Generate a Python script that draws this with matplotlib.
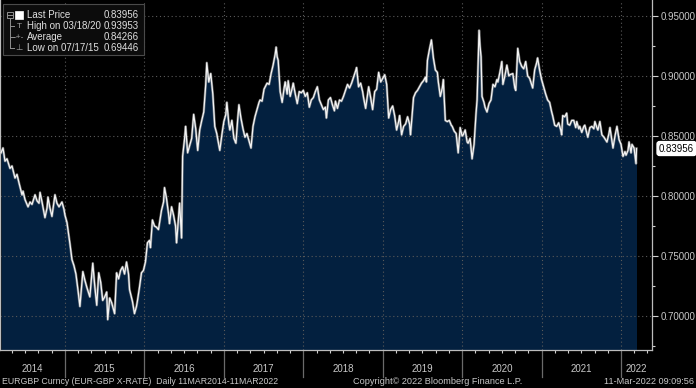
"""EURGBP daily price chart, Bloomberg terminal style."""

import matplotlib
matplotlib.use("Agg")
import matplotlib.pyplot as plt
import matplotlib.transforms as mtransforms
from matplotlib.patches import Rectangle
from matplotlib.lines import Line2D
from matplotlib.ticker import FixedLocator, FormatStrFormatter

plt.rcParams["font.family"] = ["Liberation Sans", "DejaVu Sans"]

# Price series (decimal year, EURGBP)
years = [
    2014.195, 2014.220, 2014.245, 2014.270, 2014.308, 2014.333, 2014.371, 2014.396, 2014.421, 2014.459,
    2014.472, 2014.497, 2014.535, 2014.560, 2014.585, 2014.623, 2014.648, 2014.673, 2014.686, 2014.711,
    2014.748, 2014.774, 2014.786, 2014.811, 2014.836, 2014.874, 2014.899, 2014.925, 2014.962, 2014.987,
    2015.000, 2015.025, 2015.038, 2015.063, 2015.088, 2015.113, 2015.138, 2015.163, 2015.188, 2015.213,
    2015.225, 2015.250, 2015.275, 2015.313, 2015.338, 2015.350, 2015.375, 2015.400, 2015.425, 2015.450,
    2015.475, 2015.500, 2015.525, 2015.538, 2015.563, 2015.588, 2015.625, 2015.650, 2015.675, 2015.700,
    2015.725, 2015.750, 2015.775, 2015.800, 2015.813, 2015.850, 2015.875, 2015.900, 2015.913, 2015.938,
    2015.963, 2015.988, 2016.013, 2016.025, 2016.038, 2016.063, 2016.076, 2016.101, 2016.127, 2016.152,
    2016.177, 2016.215, 2016.241, 2016.253, 2016.278, 2016.304, 2016.316, 2016.342, 2016.367, 2016.392,
    2016.405, 2016.430, 2016.443, 2016.468, 2016.481, 2016.506, 2016.519, 2016.544, 2016.570, 2016.595,
    2016.620, 2016.646, 2016.671, 2016.696, 2016.722, 2016.747, 2016.772, 2016.785, 2016.810, 2016.835,
    2016.861, 2016.886, 2016.911, 2016.924, 2016.949, 2016.975, 2017.000, 2017.025, 2017.038, 2017.063,
    2017.076, 2017.101, 2017.127, 2017.152, 2017.177, 2017.190, 2017.215, 2017.241, 2017.266, 2017.291,
    2017.316, 2017.342, 2017.367, 2017.392, 2017.418, 2017.443, 2017.456, 2017.481, 2017.506, 2017.544,
    2017.570, 2017.595, 2017.620, 2017.646, 2017.658, 2017.671, 2017.684, 2017.709, 2017.734, 2017.759,
    2017.772, 2017.797, 2017.810, 2017.835, 2017.861, 2017.873, 2017.899, 2017.924, 2017.949, 2017.975,
    2018.000, 2018.025, 2018.051, 2018.076, 2018.101, 2018.127, 2018.152, 2018.177, 2018.203, 2018.228,
    2018.253, 2018.278, 2018.291, 2018.316, 2018.342, 2018.367, 2018.392, 2018.405, 2018.430, 2018.456,
    2018.481, 2018.506, 2018.532, 2018.557, 2018.582, 2018.608, 2018.633, 2018.658, 2018.671, 2018.696,
    2018.722, 2018.747, 2018.759, 2018.785, 2018.810, 2018.823, 2018.848, 2018.873, 2018.899, 2018.924,
    2018.949, 2018.975, 2019.000, 2019.025, 2019.050, 2019.063, 2019.075, 2019.100, 2019.125, 2019.150,
    2019.175, 2019.200, 2019.213, 2019.238, 2019.263, 2019.288, 2019.313, 2019.338, 2019.350, 2019.375,
    2019.388, 2019.413, 2019.438, 2019.463, 2019.488, 2019.513, 2019.538, 2019.550, 2019.563, 2019.588,
    2019.613, 2019.638, 2019.663, 2019.688, 2019.700, 2019.725, 2019.750, 2019.763, 2019.788, 2019.813,
    2019.838, 2019.863, 2019.875, 2019.900, 2019.925, 2019.950, 2019.975, 2020.000, 2020.013, 2020.038,
    2020.063, 2020.075, 2020.100, 2020.125, 2020.150, 2020.175, 2020.188, 2020.213, 2020.225, 2020.238,
    2020.250, 2020.275, 2020.288, 2020.313, 2020.338, 2020.363, 2020.388, 2020.413, 2020.438, 2020.450,
    2020.475, 2020.500, 2020.513, 2020.538, 2020.563, 2020.588, 2020.600, 2020.638, 2020.663, 2020.675,
    2020.700, 2020.725, 2020.750, 2020.775, 2020.800, 2020.825, 2020.850, 2020.888, 2020.913, 2020.938,
    2020.950, 2020.975, 2021.000, 2021.025, 2021.051, 2021.076, 2021.101, 2021.127, 2021.139, 2021.165,
    2021.190, 2021.215, 2021.241, 2021.253, 2021.266, 2021.291, 2021.316, 2021.329, 2021.354, 2021.380,
    2021.405, 2021.430, 2021.443, 2021.468, 2021.481, 2021.506, 2021.532, 2021.544, 2021.570, 2021.582,
    2021.608, 2021.633, 2021.658, 2021.671, 2021.696, 2021.709, 2021.734, 2021.759, 2021.785, 2021.823,
    2021.848, 2021.861, 2021.886, 2021.899, 2021.924, 2021.949, 2021.975, 2022.000, 2022.025, 2022.050,
    2022.063, 2022.088, 2022.101, 2022.126, 2022.138, 2022.164, 2022.189, 2022.195,
]
prices = [
    0.836, 0.840, 0.829, 0.831, 0.823, 0.825, 0.815, 0.818, 0.811, 0.801,
    0.804, 0.797, 0.791, 0.795, 0.793, 0.801, 0.796, 0.794, 0.803, 0.795,
    0.782, 0.790, 0.799, 0.790, 0.783, 0.801, 0.794, 0.791, 0.795, 0.789,
    0.784, 0.778, 0.772, 0.760, 0.747, 0.742, 0.735, 0.722, 0.708, 0.728,
    0.737, 0.730, 0.724, 0.716, 0.735, 0.744, 0.725, 0.709, 0.736, 0.728,
    0.713, 0.716, 0.720, 0.697, 0.715, 0.711, 0.702, 0.736, 0.731, 0.738,
    0.741, 0.735, 0.745, 0.735, 0.722, 0.712, 0.702, 0.708, 0.713, 0.724,
    0.736, 0.738, 0.745, 0.753, 0.761, 0.763, 0.757, 0.780, 0.775, 0.774,
    0.772, 0.788, 0.795, 0.807, 0.798, 0.785, 0.777, 0.791, 0.784, 0.775,
    0.761, 0.783, 0.794, 0.765, 0.833, 0.848, 0.858, 0.836, 0.842, 0.848,
    0.868, 0.856, 0.838, 0.855, 0.863, 0.870, 0.893, 0.911, 0.895, 0.902,
    0.885, 0.858, 0.852, 0.847, 0.838, 0.851, 0.862, 0.868, 0.878, 0.860,
    0.855, 0.863, 0.848, 0.844, 0.866, 0.876, 0.865, 0.856, 0.849, 0.852,
    0.846, 0.840, 0.858, 0.866, 0.872, 0.878, 0.880, 0.879, 0.889, 0.894,
    0.893, 0.902, 0.909, 0.918, 0.924, 0.916, 0.913, 0.887, 0.878, 0.890,
    0.895, 0.885, 0.896, 0.883, 0.890, 0.894, 0.885, 0.877, 0.887, 0.886,
    0.888, 0.883, 0.886, 0.874, 0.880, 0.882, 0.887, 0.891, 0.880, 0.876,
    0.872, 0.874, 0.865, 0.880, 0.882, 0.876, 0.871, 0.879, 0.873, 0.880,
    0.879, 0.883, 0.888, 0.893, 0.890, 0.894, 0.899, 0.904, 0.907, 0.891,
    0.894, 0.887, 0.882, 0.873, 0.885, 0.891, 0.882, 0.872, 0.887, 0.889,
    0.903, 0.895, 0.898, 0.901, 0.893, 0.878, 0.865, 0.872, 0.875, 0.867,
    0.855, 0.862, 0.867, 0.851, 0.858, 0.860, 0.866, 0.860, 0.851, 0.872,
    0.882, 0.886, 0.888, 0.891, 0.894, 0.896, 0.899, 0.895, 0.913, 0.922,
    0.930, 0.915, 0.905, 0.903, 0.895, 0.883, 0.890, 0.897, 0.863, 0.862,
    0.863, 0.859, 0.858, 0.854, 0.852, 0.836, 0.857, 0.850, 0.851, 0.855,
    0.845, 0.844, 0.848, 0.831, 0.843, 0.869, 0.880, 0.938, 0.925, 0.916,
    0.883, 0.878, 0.874, 0.870, 0.877, 0.880, 0.893, 0.891, 0.897, 0.895,
    0.903, 0.912, 0.893, 0.900, 0.909, 0.900, 0.901, 0.902, 0.890, 0.888,
    0.923, 0.912, 0.908, 0.906, 0.912, 0.900, 0.898, 0.890, 0.905, 0.911,
    0.915, 0.905, 0.897, 0.891, 0.885, 0.880, 0.878, 0.870, 0.867, 0.859,
    0.858, 0.861, 0.855, 0.851, 0.867, 0.866, 0.869, 0.860, 0.859, 0.863,
    0.863, 0.857, 0.862, 0.856, 0.858, 0.853, 0.858, 0.859, 0.852, 0.849,
    0.857, 0.858, 0.856, 0.862, 0.857, 0.855, 0.862, 0.851, 0.849, 0.845,
    0.852, 0.857, 0.846, 0.840, 0.850, 0.858, 0.847, 0.843, 0.833, 0.837,
    0.834, 0.838, 0.845, 0.836, 0.843, 0.840, 0.827, 0.8396,
]

year_labels = [2014, 2015, 2016, 2017, 2018, 2019, 2020, 2021, 2022]
y_ticks = [0.70, 0.75, 0.80, 0.85, 0.90, 0.95]
last_price = 0.83956

legend_labels = ["Last Price", "High on 03/18/20", "Average", "Low on 07/17/15"]
legend_values = ["0.83956", "0.93953", "0.84266", "0.69446"]

footer_left = "EURGBP Curncy (EUR-GBP X-RATE)  Daily 11MAR2014-11MAR2022"
footer_mid = "Copyright\u00a9 2022 Bloomberg Finance L.P."
footer_right = "11-Mar-2022 09:09:56"

BG = "black"
FILL = "#03203f"
TXT = "#c8c8c8"
GRID = "#5a5a5a"
W, H = 696, 388

fig = plt.figure(figsize=(W / 100, H / 100), dpi=100, facecolor=BG)
ax = fig.add_axes([0, 38 / H, 652 / W, 350 / H], facecolor=BG)

y_lo, y_hi = 0.6717, 0.9633
x_lo, x_hi = 2014.182, 2022.39

ax.fill_between(years, prices, y_lo, color=FILL, lw=0, zorder=1)
ax.plot(years, prices, color="#a8a8a8", lw=1.8, alpha=0.6, zorder=3)
ax.plot(years, prices, color="#f4f4f4", lw=0.9, zorder=3.1)

ax.set_xlim(x_lo, x_hi)
ax.set_ylim(y_lo, y_hi)

# y axis on the right
ax.yaxis.tick_right()
ax.set_yticks(y_ticks)
ax.yaxis.set_minor_locator(FixedLocator([0.675, 0.725, 0.775, 0.825, 0.875, 0.925]))
ax.yaxis.set_major_formatter(FormatStrFormatter("%.5f"))
ax.tick_params(axis="y", which="major", direction="out", length=4, width=0.8,
               color="#d0d0d0", labelcolor=TXT, labelsize=7, pad=2)
ax.tick_params(axis="y", which="minor", direction="out", length=2, width=0.8, color="#d0d0d0")

# x axis: year boundaries as gridlines, bimonthly minor ticks
bounds = year_labels[1:]
ax.set_xticks(bounds)
ax.set_xticklabels([])
ax.xaxis.set_minor_locator(FixedLocator([y0 + k / 6 for y0 in range(2014, 2023) for k in range(6)]))
ax.tick_params(axis="x", which="major", length=0)
ax.tick_params(axis="x", which="minor", direction="out", length=2.5, width=0.8, color="#d0d0d0")

ax.set_axisbelow("line")
ax.grid(True, which="major", color=GRID, linestyle=(0, (1, 2.5)), linewidth=0.8)

ax.spines["top"].set_visible(False)
for side in ("bottom", "right", "left"):
    ax.spines[side].set_color("#bcbcbc")
    ax.spines[side].set_linewidth(0.9)

# year separators and labels below the axis
trans = mtransforms.blended_transform_factory(ax.transData, ax.transAxes)
for b in bounds:
    ax.add_line(Line2D([b, b], [0, -27 / 350], transform=trans, color="#6a6a6a",
                       lw=0.9, clip_on=False))
edges = [x_lo] + bounds + [x_hi]
for i, yr in enumerate(year_labels):
    ax.text((edges[i] + edges[i + 1]) / 2, -19 / 350, str(yr), transform=trans,
            ha="center", va="center", color=TXT, fontsize=7)

# last price tag
tag_trans = mtransforms.blended_transform_factory(ax.transAxes, ax.transData)
ax.text(1 + 7 / 652, last_price, f"{last_price:.5f}", transform=tag_trans, ha="left",
        va="center", fontsize=7, color="black",
        bbox=dict(boxstyle="round,pad=0.2,rounding_size=0.25", fc="white", ec="white"),
        clip_on=False)

# footer
fig.text(2 / W, 1 - 381 / H, footer_left, ha="left", va="center", color=TXT, fontsize=6.3)
fig.text(353 / W, 1 - 381 / H, footer_mid, ha="left", va="center", color=TXT, fontsize=6.6)
fig.text(694 / W, 1 - 381 / H, footer_right, ha="right", va="center", color=TXT, fontsize=6.6)

# legend box, top left
def px(x, y):
    return x / W, 1 - y / H

fig.patches.append(Rectangle(px(3, 55), 141 / W, 51 / H, transform=fig.transFigure,
                             fc="#0c0c0c", ec="#4a4a4a", lw=0.8, zorder=5))
rows = [15, 26, 37, 48]
# tree connector
fig.patches.append(Rectangle(px(7, 18), 6 / W, 6 / H, transform=fig.transFigure,
                             fc="none", ec="#909090", lw=0.7, zorder=6))
fig.add_artist(Line2D([px(10, 0)[0]] * 2, [px(0, 18)[1], px(0, 48)[1]],
                      transform=fig.transFigure, color="#909090", lw=0.7, zorder=6))
for r in rows[1:]:
    fig.add_artist(Line2D([px(10, 0)[0], px(14, 0)[0]], [px(0, r)[1]] * 2,
                          transform=fig.transFigure, color="#909090", lw=0.7, zorder=6))
fig.add_artist(Line2D([px(8, 0)[0], px(12, 0)[0]], [px(0, 15)[1]] * 2,
                      transform=fig.transFigure, color="#909090", lw=0.7, zorder=7))
fig.patches.append(Rectangle(px(15, 19), 8 / W, 8 / H, transform=fig.transFigure,
                             fc="white", ec="white", lw=0.5, zorder=6))
symbols = [None, "T", "-+-", "\u22a5"]
for r, lab, val, sym in zip(rows, legend_labels, legend_values, symbols):
    if sym:
        fig.text(*px(19, r), sym, ha="center", va="center", color="#a0a0a0",
                 fontsize=6, zorder=7)
    fig.text(*px(27, r), lab, ha="left", va="center", color="#e0e0e0", fontsize=7, zorder=7)
    fig.text(*px(139, r), val, ha="right", va="center", color="#e0e0e0", fontsize=7, zorder=7)

fig.savefig("out.png", dpi=100, facecolor=BG)
